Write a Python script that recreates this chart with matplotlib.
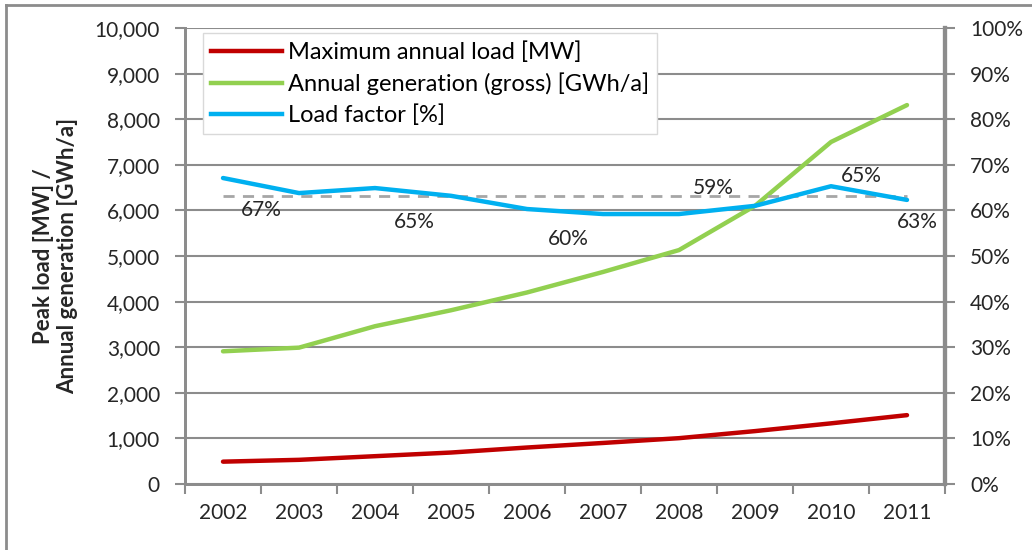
import matplotlib
matplotlib.use("Agg")
import matplotlib.pyplot as plt
from matplotlib.lines import Line2D
from matplotlib.ticker import FuncFormatter, MultipleLocator

years = ["2002", "2003", "2004", "2005", "2006", "2007", "2008", "2009", "2010", "2011"]
max_load = [490, 530, 610, 690, 800, 900, 1005, 1160, 1330, 1510]
generation = [2910, 2990, 3460, 3810, 4200, 4650, 5130, 6100, 7500, 8310]
load_factor = [67.1, 63.8, 64.9, 63.2, 60.3, 59.2, 59.2, 61.0, 65.3, 62.3]
avg_load_factor = 63.2
lf_labels = ["67%", "", "65%", "", "60%", "", "59%", "", "65%", "63%"]

# label placement offsets (x in categories, y in percentage points)
lf_label_dx = [0.5, 0, 0.52, 0, 0.55, 0, 0.45, 0, 0.4, 0.13]
lf_label_dy = [-7.0, 0, -7.4, 0, -6.6, 0, 5.7, 0, 2.2, -4.8]

plt.rcParams['font.family'] = ['Lato', 'DejaVu Sans']

fig = plt.figure(figsize=(10.32, 5.5), dpi=100)
ax = fig.add_axes([185/1032, 66/550, 760/1032, 456/550])
ax2 = ax.twinx()

x = list(range(len(years)))
grid_c = '#8c8c8c'
txt_c = '#262626'

ax.plot(x, max_load, color='#c00000', lw=3.2, solid_capstyle='round', zorder=3)
ax.plot(x, generation, color='#92d050', lw=3.2, solid_capstyle='round', zorder=3)
ax2.plot(x, load_factor, color='#00b0f0', lw=3.2, solid_capstyle='round', zorder=3)
ax2.plot([x[0], x[-1]], [avg_load_factor]*2, color='#a6a6a6', lw=2, ls=(0, (4, 3)), zorder=2)

for i, lab in enumerate(lf_labels):
    if not lab:
        continue
    ax2.text(x[i] + lf_label_dx[i], load_factor[i] + lf_label_dy[i], lab,
             ha='center', va='center', fontsize=15, color=txt_c, zorder=4)

ax.set_xlim(-0.5, len(years) - 0.5)
ax.set_ylim(0, 10000)
ax2.set_ylim(0, 100)
ax.yaxis.set_major_locator(MultipleLocator(1000))
ax2.yaxis.set_major_locator(MultipleLocator(10))
ax.yaxis.set_major_formatter(FuncFormatter(lambda v, p: f"{int(v):,}"))
ax2.yaxis.set_major_formatter(FuncFormatter(lambda v, p: f"{int(v)}%"))
ax.set_xticks(x)
ax.set_xticklabels(years)
ax.set_xticks([i - 0.5 for i in range(len(years) + 1)], minor=True)
ax.tick_params(axis='x', which='major', length=0, labelsize=15, pad=14, colors=txt_c)
ax.tick_params(axis='x', which='minor', length=7, width=1.5, color=grid_c, direction='out')
ax.tick_params(axis='y', length=7, width=1.5, color=grid_c, labelsize=15, labelcolor=txt_c, pad=11)
ax2.tick_params(axis='y', length=7, width=1.5, color=grid_c, labelsize=15, labelcolor=txt_c, pad=11)

ax.grid(axis='y', color=grid_c, lw=1.5)
ax.set_axisbelow(True)
for a in (ax, ax2):
    a.spines['top'].set_visible(False)
    a.spines['left'].set_color(grid_c)
    a.spines['left'].set_linewidth(2)
    a.spines['right'].set_color(grid_c)
    a.spines['right'].set_linewidth(3)
    a.spines['bottom'].set_color(grid_c)
    a.spines['bottom'].set_linewidth(2)

ax.set_ylabel("Peak load [MW] /\nAnnual generation [GWh/a]", fontsize=16, fontweight='bold',
              color=txt_c, labelpad=12, linespacing=1.2)

handles = [Line2D([], [], color='#c00000', lw=3.2),
           Line2D([], [], color='#92d050', lw=3.2),
           Line2D([], [], color='#00b0f0', lw=3.2)]
labels = ["Maximum annual load [MW]", "Annual generation (gross) [GWh/a]", "Load factor [%]"]
leg = ax2.legend(handles, labels, loc='upper left', bbox_to_anchor=(18/760, 1 - 5/456),
                 fontsize=17, frameon=True, fancybox=False, edgecolor='#d9d9d9',
                 handlelength=3.0, handletextpad=0.25, borderpad=0.35, labelspacing=0.4,
                 borderaxespad=0, framealpha=1)
leg.get_frame().set_linewidth(1)
leg.set_zorder(5)

# outer frame
fig.add_artist(Line2D([6/1032, 1.01], [545/550, 545/550], color='#8c8c8c', lw=2, transform=fig.transFigure))
fig.add_artist(Line2D([6/1032, 6/1032], [-0.01, 545/550], color='#8c8c8c', lw=2, transform=fig.transFigure))

fig.savefig("out.png", dpi=100)
